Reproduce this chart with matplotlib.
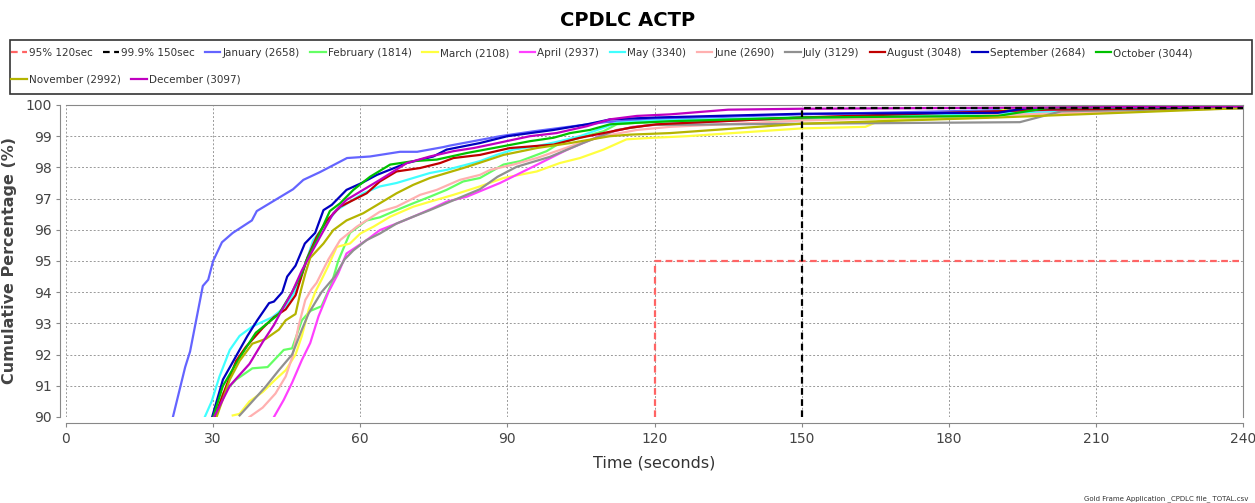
import matplotlib
matplotlib.use("Agg")
import matplotlib.pyplot as plt
from matplotlib.patches import Rectangle

# curve points (time s, cumulative %)
jan_t = [21.8, 24.3, 25.3, 27.9, 29.0, 30.0, 31.8, 34.0, 37.9, 38.9, 42.6, 46.3, 48.4, 51.8, 57.3, 62.0, 68.1, 71.6, 76.9, 78.3, 88.5, 95, 105.4, 110, 120, 150, 195, 240]
jan_p = [90, 91.6, 92.1, 94.2, 94.4, 95.0, 95.6, 95.9, 96.3, 96.6, 96.95, 97.3, 97.6, 97.85, 98.3, 98.35, 98.5, 98.5, 98.65, 98.7, 99.0, 99.15, 99.36, 99.45, 99.55, 99.7, 99.85, 99.9]
feb_t = [30.5, 32, 34.7, 38, 41.1, 44.4, 46.1, 48.1, 49.8, 52.1, 54.2, 55.5, 57.9, 61.3, 64, 67.4, 70.8, 74.2, 77.6, 81, 84.4, 89.2, 92.6, 98, 100.7, 104.8, 109.6, 112.3, 116.4, 123.2, 150, 186, 192, 240]
feb_p = [90, 90.75, 91.2, 91.56, 91.6, 92.15, 92.2, 93.1, 93.4, 93.55, 94.3, 95.0, 95.9, 96.3, 96.4, 96.63, 96.85, 97.06, 97.28, 97.55, 97.66, 98.09, 98.2, 98.52, 98.78, 98.95, 99.16, 99.38, 99.43, 99.48, 99.55, 99.6, 99.9, 99.95]
mar_t = [34, 35.4, 37.4, 40.1, 42.7, 44.8, 46.8, 48.1, 49.5, 50.8, 52.1, 53.5, 55.2, 57.9, 60, 62.7, 66.1, 70.8, 74.2, 79, 84.4, 89.2, 96, 100.7, 104.8, 109.6, 114.3, 119.8, 126.6, 150, 163, 166, 188, 192, 240]
mar_p = [90.05, 90.1, 90.5, 90.8, 91.2, 91.5, 92.0, 92.6, 93.45, 94.0, 94.4, 94.85, 95.45, 95.56, 95.88, 96.1, 96.42, 96.74, 96.9, 97.12, 97.39, 97.66, 97.87, 98.14, 98.3, 98.57, 98.9, 98.95, 99.0, 99.25, 99.3, 99.5, 99.6, 99.9, 99.95]
apr_t = [42.4, 44.4, 46.1, 48.1, 49.8, 51.5, 53.5, 55.5, 57.2, 61.3, 64, 67.4, 70.8, 74.9, 77.6, 81.7, 88.5, 95.2, 102.1, 110.2, 115.6, 122.5, 150, 190, 240]
apr_p = [90, 90.55, 91.1, 91.83, 92.37, 93.23, 94.0, 94.6, 95.24, 95.67, 95.99, 96.2, 96.42, 96.7, 96.9, 97.06, 97.5, 98.02, 98.56, 99.1, 99.3, 99.4, 99.6, 99.75, 99.9]
may_t = [28.3, 29.7, 31.3, 33.4, 35.4, 38, 42.1, 44.8, 46.8, 49.1, 50.4, 55.2, 60.6, 64, 67.4, 70.8, 74.2, 77.6, 84.4, 87.8, 91.2, 96, 100.7, 104.8, 109.6, 112.3, 120, 150, 195, 240]
may_p = [90, 90.5, 91.3, 92.15, 92.6, 92.9, 93.2, 93.55, 94.05, 95.05, 95.67, 96.63, 97.17, 97.39, 97.5, 97.66, 97.82, 97.92, 98.2, 98.4, 98.57, 98.68, 98.84, 99.0, 99.27, 99.43, 99.5, 99.6, 99.75, 99.9]
jun_t = [37.4, 40.1, 42.7, 44.8, 46.1, 47.4, 48.8, 50.1, 51.1, 53.5, 55.9, 59.3, 64, 67.4, 72.2, 75.6, 80.3, 84.4, 86.5, 91.2, 96, 100, 104.8, 109.6, 116.4, 123.2, 150, 195, 240]
jun_p = [90, 90.3, 90.75, 91.3, 91.9, 92.9, 93.75, 94.1, 94.3, 95.05, 95.67, 96.1, 96.58, 96.74, 97.12, 97.28, 97.6, 97.76, 97.92, 98.09, 98.3, 98.52, 98.78, 99.0, 99.2, 99.3, 99.5, 99.7, 99.9]
jul_t = [35.4, 38, 40.7, 43.4, 46.1, 48.1, 49.5, 52.1, 54.8, 56.8, 58.6, 61.3, 64, 67.4, 70.8, 74.2, 78.3, 84.4, 88, 91.9, 98.7, 105.4, 112.3, 119.1, 150, 194.5, 203, 240]
jul_p = [90.05, 90.5, 90.97, 91.5, 92.0, 92.8, 93.33, 94.0, 94.5, 95.05, 95.34, 95.67, 95.88, 96.2, 96.42, 96.63, 96.9, 97.3, 97.7, 98.02, 98.34, 98.78, 99.2, 99.36, 99.4, 99.45, 99.8, 99.9]
aug_t = [30.3, 32.7, 34.7, 36.7, 40.1, 42.4, 44.8, 46.8, 48.0, 49.2, 51.1, 53.2, 55.9, 57.9, 61.3, 64, 67.4, 72.2, 76.3, 79, 84.4, 90.5, 99.4, 104.8, 109.6, 115, 120.4, 150, 200, 240]
aug_p = [90, 91, 91.8, 92.25, 92.85, 93.2, 93.45, 93.9, 94.5, 95.1, 95.77, 96.3, 96.74, 96.9, 97.17, 97.55, 97.87, 97.98, 98.14, 98.3, 98.4, 98.62, 98.73, 98.95, 99.1, 99.27, 99.38, 99.6, 99.85, 99.92]
sep_t = [29.8, 32, 37, 39, 41.4, 42.4, 44.1, 45.1, 46.8, 48.7, 50.8, 52.5, 54.2, 57.2, 60.3, 63.4, 69.5, 74.9, 77.6, 84.4, 90, 99.4, 106.2, 111, 120.4, 150, 190, 196, 240]
sep_p = [90, 91.2, 92.6, 93.1, 93.65, 93.7, 94.0, 94.5, 94.85, 95.56, 95.9, 96.63, 96.8, 97.28, 97.5, 97.76, 98.14, 98.35, 98.57, 98.78, 99.0, 99.2, 99.38, 99.54, 99.6, 99.72, 99.75, 99.9, 99.92]
oct_t = [30, 32, 35.4, 38.7, 43.4, 46.1, 48.1, 49.1, 51.1, 53.8, 55.9, 58.6, 62, 66.1, 70.8, 75.6, 81.7, 89.2, 94.6, 99.4, 102.8, 106.8, 110.9, 116.4, 123.2, 150, 190, 200, 240]
oct_p = [90, 91.0, 91.9, 92.7, 93.3, 94.0, 94.6, 95.05, 95.67, 96.6, 96.85, 97.28, 97.7, 98.09, 98.2, 98.25, 98.46, 98.68, 98.84, 98.95, 99.1, 99.2, 99.38, 99.43, 99.48, 99.6, 99.65, 99.9, 99.95]
nov_t = [30.7, 33.4, 35.4, 38, 40.7, 43.4, 44.8, 46.8, 47.8, 48.8, 49.8, 52.5, 54.5, 57.2, 60.6, 64, 67.4, 70.8, 74.2, 77.6, 81, 84.4, 89.2, 96, 102.8, 110.9, 115, 123.2, 150, 190, 240]
nov_p = [90, 91.2, 91.8, 92.35, 92.5, 92.8, 93.1, 93.3, 94.0, 94.6, 95.1, 95.56, 95.99, 96.3, 96.53, 96.85, 97.17, 97.44, 97.66, 97.82, 97.98, 98.15, 98.4, 98.62, 98.78, 99.0, 99.05, 99.1, 99.4, 99.6, 99.9]
dec_t = [30.2, 33.4, 37.4, 40.1, 42.4, 44.1, 46.1, 48.1, 51.8, 54.5, 57.2, 60.6, 64, 69.5, 74.2, 79, 83.1, 86.5, 94.6, 100, 106.2, 110.9, 116.4, 123.2, 135, 150, 240]
dec_p = [90, 91, 91.7, 92.4, 92.95, 93.45, 94.0, 94.7, 95.77, 96.53, 96.96, 97.28, 97.6, 98.14, 98.35, 98.52, 98.62, 98.73, 99.0, 99.1, 99.32, 99.54, 99.65, 99.7, 99.85, 99.88, 99.95]

months = ['January (2658)', 'February (1814)', 'March (2108)', 'April (2937)', 'May (3340)',
          'June (2690)', 'July (3129)', 'August (3048)', 'September (2684)', 'October (3044)',
          'November (2992)', 'December (3097)']
series = [(jan_t, jan_p), (feb_t, feb_p), (mar_t, mar_p), (apr_t, apr_p), (may_t, may_p),
          (jun_t, jun_p), (jul_t, jul_p), (aug_t, aug_p), (sep_t, sep_p), (oct_t, oct_p),
          (nov_t, nov_p), (dec_t, dec_p)]
colors = ['#6464ff', '#64ff64', '#ffff40', '#ff40ff', '#40ffff', '#ffb0b0', '#909090',
          '#c00000', '#0000c0', '#00c000', '#b4b400', '#c000c0']

# target lines
t95 = [120, 120, 240]
p95 = [90, 95, 95]
t999 = [150, 150, 240]
p999 = [90, 99.9, 99.9]

fig = plt.figure(figsize=(12.55, 5.03), dpi=100)
ax = fig.add_axes([66/1255, 1-417/503, (1243-66)/1255, (417-105)/503])

lines = []
l95, = ax.plot(t95, p95, color='#ff6464', lw=1.6, ls=(0, (3, 2)), zorder=3)
l999, = ax.plot(t999, p999, color='black', lw=1.6, ls=(0, (3, 2)), zorder=3)
for (t, p), c in zip(series, colors):
    ln, = ax.plot(t, p, color=c, lw=1.6, zorder=2)
    lines.append(ln)

ax.set_xlim(0, 240)
ax.set_ylim(90, 100)
ax.set_xticks(range(0, 241, 30))
ax.set_yticks(range(90, 101, 1))
ax.grid(True, color='#999999', ls=(0, (2, 2)), lw=0.7)
for s in ['top', 'right']:
    ax.spines[s].set_color('#888888')
ax.spines['left'].set_position(('outward', 4))
ax.spines['bottom'].set_position(('outward', 4))
ax.spines['left'].set_color('#888888')
ax.spines['bottom'].set_color('#888888')
ax.tick_params(colors='#888888', labelcolor='#444444', labelsize=10, length=3)
ax.set_xlabel('Time (seconds)', fontsize=11.5, color='#333333', labelpad=7)
ax.set_ylabel('Cumulative Percentage (%)', fontsize=11.5, fontweight='bold', color='#444444', labelpad=6)

fig.text(0.5, 1-20/503, 'CPDLC ACTP', ha='center', va='center', fontsize=14, fontweight='bold')

# legend box with two rows
fig.add_artist(Rectangle((10/1255, 1-94/503), 1242/1255, 54/503, transform=fig.transFigure,
                         fill=False, edgecolor='#333333', lw=1.2))
h1 = [l95, l999] + lines[:10]
n1 = ['95% 120sec', '99.9% 150sec'] + months[:10]
fig.legend(h1, n1, loc='center left', bbox_to_anchor=(11/1255, 1-53/503), ncol=12, frameon=False,
           fontsize=7.5, handlelength=1.5, handletextpad=0.2, columnspacing=1.0, borderpad=0,
           borderaxespad=0, labelcolor='#333333')
fig.legend(lines[10:], months[10:], loc='center left', bbox_to_anchor=(11/1255, 1-80/503), ncol=2,
           frameon=False, fontsize=7.5, handlelength=1.5, handletextpad=0.2, columnspacing=1.0,
           borderpad=0, borderaxespad=0, labelcolor='#333333')

fig.text(1248/1255, 1/503, 'Gold Frame Application _CPDLC file_ TOTAL.csv', ha='right', va='bottom',
         fontsize=5, color='#333333')

fig.savefig('out.png', dpi=100)
